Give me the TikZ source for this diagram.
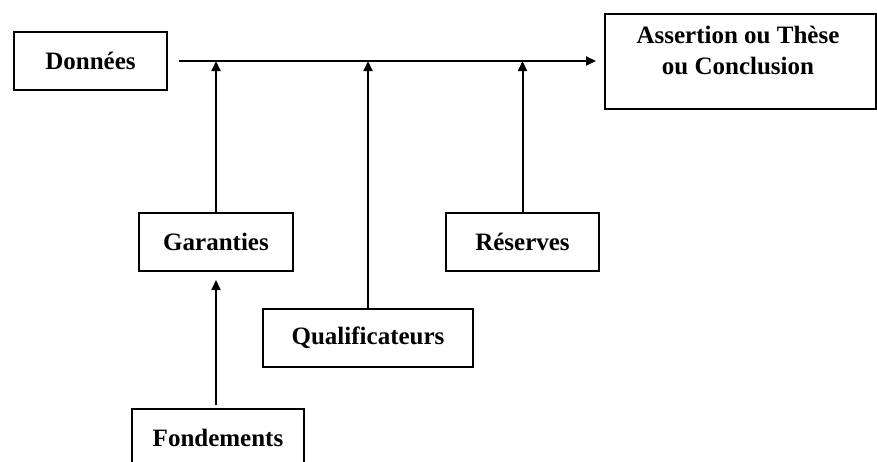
\documentclass[tikz,border=0pt]{standalone}
\usepackage{fontspec}
\setmainfont{Liberation Serif}
\usepackage{tikz}
\usetikzlibrary{positioning}
\usetikzlibrary{arrows.meta}

\begin{document}
\begin{tikzpicture}[x=0.5pt,y=-0.5pt,
	boite/.style={draw,line width=1pt,minimum height=29pt,font=\fontsize{12.5}{15.5}\selectfont\bfseries},
	fleche/.style={line width=1pt,-{Triangle[length=5pt,width=4.5pt]}}]
	  \useasboundingbox (0,0) rectangle (877,461);
	  \node (D) [boite,minimum width=76.5pt] at (90.5,61) {Données};
	  \node (C) [boite,minimum width=135.5pt,minimum height=47.5pt] at (740.5,61) {};
	  \node (T) [align=center,font=\fontsize{12.5}{15.5}\selectfont\bfseries] at (738,50) {Assertion ou Thèse\\ou Conclusion};
	  \node (G) [boite,minimum width=77pt] at (216,242) {Garanties};
	  \node (R) [boite,minimum width=76.5pt] at (522.5,242) {Réserves};
	  \node (Q) [boite,minimum width=105pt] at (368,338) {Qualificateurs};
	  \node (F) [boite,minimum width=86pt] at (218,438) {Fondements};
	  \coordinate (g) at (G |- D);
	  \coordinate (q) at (Q |- D);
	  \coordinate (r) at (R |- D);
	  \coordinate (f) at (F.north -| G);
	  \draw [fleche,shorten <=5.5pt,shorten >=4pt] (D) -- (C);
	  \draw [fleche] (G) -- (g);
	  \draw [fleche] (Q) -- (q);
	  \draw [fleche] (R) -- (r);
	  \draw [fleche,shorten <=1.5pt,shorten >=4pt] (f) -- (G.south);
	\end{tikzpicture}
\end{document}
